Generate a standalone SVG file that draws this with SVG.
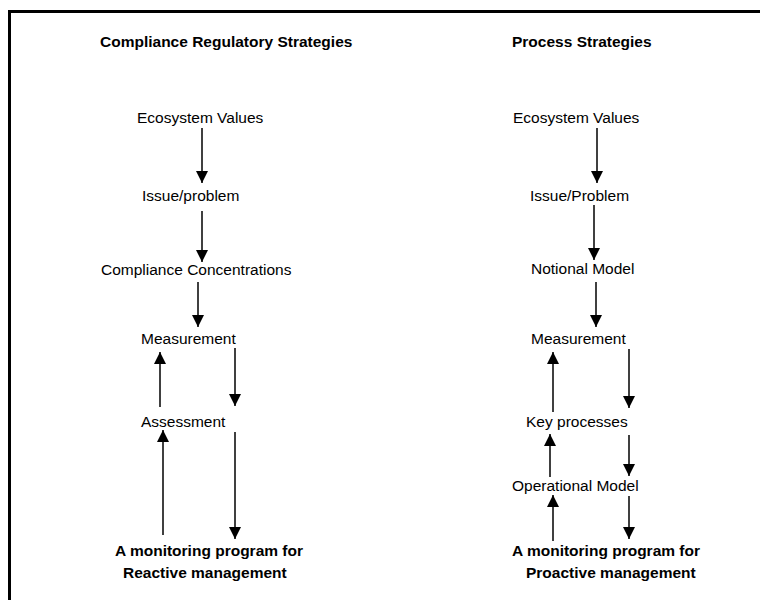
<svg xmlns="http://www.w3.org/2000/svg" width="760" height="600" viewBox="0 0 760 600">
<defs>
<marker id="ah" markerUnits="userSpaceOnUse" markerWidth="12" markerHeight="13" refX="12" refY="6" orient="auto" viewBox="0 0 12 12">
<path d="M0,0 L12,6 L0,12 z" fill="#000"/>
</marker>
<style>
.t{font-family:"Liberation Sans",Arial,sans-serif;font-size:15.5px;fill:#000}
.b{font-weight:bold}
.c{stroke:#000;stroke-width:1.5;fill:none;marker-end:url(#ah)}
</style>
</defs>
<rect width="760" height="600" fill="#fff"/>
<rect x="9.5" y="11.5" width="800" height="700" fill="none" stroke="#000" stroke-width="3"/>
<g id="title-left"><text class="t b" x="100" y="47">Compliance Regulatory Strategies</text></g>
<g id="title-right"><text class="t b" x="512" y="47">Process Strategies</text></g>
<g id="l-eco"><text class="t" x="137" y="123">Ecosystem Values</text></g>
<g id="l-issue"><text class="t" x="142" y="201">Issue/problem</text></g>
<g id="l-comp"><text class="t" x="101" y="275">Compliance Concentrations</text></g>
<g id="l-meas"><text class="t" x="141" y="344">Measurement</text></g>
<g id="l-assess"><text class="t" x="141" y="427">Assessment</text></g>
<g id="l-prog"><text class="t b" x="115" y="556">A monitoring program for</text><text class="t b" x="123" y="578">Reactive management</text></g>
<g id="r-eco"><text class="t" x="513" y="123">Ecosystem Values</text></g>
<g id="r-issue"><text class="t" x="530" y="201">Issue/Problem</text></g>
<g id="r-notional"><text class="t" x="531" y="274">Notional Model</text></g>
<g id="r-meas"><text class="t" x="531" y="344">Measurement</text></g>
<g id="r-key"><text class="t" x="526" y="427">Key processes</text></g>
<g id="r-oper"><text class="t" x="512" y="491">Operational Model</text></g>
<g id="r-prog"><text class="t b" x="512" y="556">A monitoring program for</text><text class="t b" x="526" y="578">Proactive management</text></g>
<g id="connectors">
<line class="c" x1="202" y1="128" x2="202" y2="183"/>
<line class="c" x1="202" y1="211" x2="202" y2="262"/>
<line class="c" x1="198" y1="282" x2="198" y2="327"/>
<line class="c" x1="160" y1="407" x2="160" y2="352"/>
<line class="c" x1="235" y1="348" x2="235" y2="406"/>
<line class="c" x1="163" y1="535" x2="163" y2="430"/>
<line class="c" x1="235" y1="432" x2="235" y2="539"/>
<line class="c" x1="597" y1="128" x2="597" y2="183"/>
<line class="c" x1="594" y1="205" x2="594" y2="260"/>
<line class="c" x1="596" y1="282" x2="596" y2="327"/>
<line class="c" x1="553" y1="412" x2="553" y2="352"/>
<line class="c" x1="629" y1="349" x2="629" y2="408"/>
<line class="c" x1="550" y1="477" x2="550" y2="434"/>
<line class="c" x1="629" y1="435" x2="629" y2="476"/>
<line class="c" x1="553" y1="541" x2="553" y2="495"/>
<line class="c" x1="629" y1="496" x2="629" y2="539"/>
</g>
</svg>
